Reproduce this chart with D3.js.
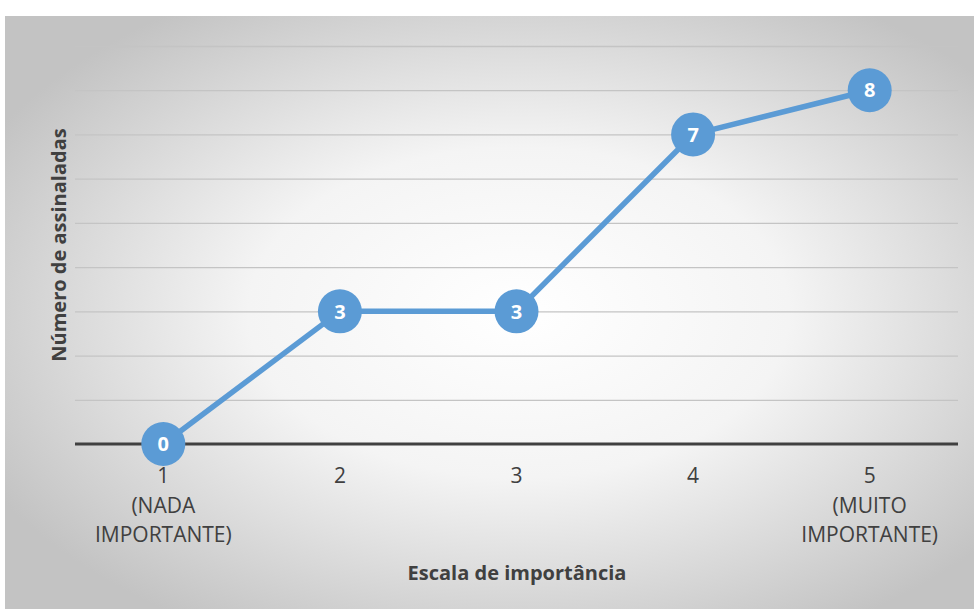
<!DOCTYPE html>
<html>
<head>
<meta charset="utf-8">
<script src="https://cdn.jsdelivr.net/npm/d3@7"></script>
<style>
  html, body { margin: 0; padding: 0; background: #ffffff; }
  svg { display: block; }
  text { font-family: "Open Sans", Lato, sans-serif; }
</style>
</head>
<body>
<svg id="chart" width="974" height="609"></svg>
<script>
// Respostas por nível da escala de importância
const categories = ["1", "2", "3", "4", "5"];
const categoryNotes = [["(NADA", "IMPORTANTE)"], [], [], [], ["(MUITO", "IMPORTANTE)"]];
const values = [0, 3, 3, 7, 8];
const yTicks = [0, 1, 2, 3, 4, 5, 6, 7, 8, 9];

const svg = d3.select("#chart");
const W = 974, H = 609;

// fundo com gradiente radial
const defs = svg.append("defs");
const grad = defs.append("radialGradient")
  .attr("id", "bg")
  .attr("cx", "53%").attr("cy", "50%").attr("r", "62%");
grad.append("stop").attr("offset", "0%").attr("stop-color", "#ffffff");
grad.append("stop").attr("offset", "45%").attr("stop-color", "#f4f4f4");
grad.append("stop").attr("offset", "100%").attr("stop-color", "#c3c3c3");

svg.append("rect")
  .attr("x", 5).attr("y", 16)
  .attr("width", W - 5).attr("height", H - 16)
  .attr("fill", "url(#bg)");

const plot = { left: 75, right: 958, top: 46, bottom: 444 };

const x = d3.scalePoint()
  .domain(categories)
  .range([plot.left, plot.right])
  .padding(0.5);

const y = d3.scaleLinear()
  .domain([0, 9])
  .range([plot.bottom, plot.top]);

// linhas de grade
const grid = d3.axisLeft(y)
  .tickValues(yTicks.filter(v => v > 0))
  .tickSize(-(plot.right - plot.left))
  .tickFormat("");
svg.append("g")
  .attr("transform", `translate(${plot.left},0)`)
  .call(grid)
  .call(g => g.select(".domain").remove())
  .call(g => g.selectAll(".tick line").attr("stroke", "#c4c4c4").attr("stroke-width", 1.3));

// eixo horizontal (zero)
const xAxis = d3.axisBottom(x).tickSize(0).tickFormat("");
svg.append("g")
  .attr("transform", `translate(0,${y(0)})`)
  .call(xAxis)
  .call(g => g.select(".domain")
    .attr("d", `M${plot.left},0H${plot.right}`)
    .attr("stroke", "#404040").attr("stroke-width", 3));

// rótulos das categorias
const labels = svg.append("g");
categories.forEach((c, i) => {
  const lines = [c].concat(categoryNotes[i]);
  lines.forEach((t, j) => {
    labels.append("text")
      .attr("x", x(c))
      .attr("y", 483 + j * 29.5)
      .attr("text-anchor", "middle")
      .attr("font-size", 21)
      .attr("fill", "#404040")
      .text(t);
  });
});

// série
const line = d3.line()
  .x((d, i) => x(categories[i]))
  .y(d => y(d));

svg.append("path")
  .datum(values)
  .attr("d", line)
  .attr("fill", "none")
  .attr("stroke", "#5b9bd5")
  .attr("stroke-width", 5.5)
  .attr("stroke-linejoin", "round");

const pts = svg.append("g").selectAll("g")
  .data(values)
  .join("g")
  .attr("transform", (d, i) => `translate(${x(categories[i])},${y(d)})`);

pts.append("circle")
  .attr("r", 22)
  .attr("fill", "#5b9bd5");

pts.append("text")
  .attr("text-anchor", "middle")
  .attr("dy", "0.36em")
  .attr("font-size", 20)
  .attr("font-weight", "bold")
  .attr("fill", "#ffffff")
  .text(d => d);

// títulos dos eixos
svg.append("text")
  .attr("x", 517).attr("y", 580)
  .attr("text-anchor", "middle")
  .attr("font-size", 20)
  .attr("font-weight", "bold")
  .attr("fill", "#404040")
  .text("Escala de importância");

svg.append("text")
  .attr("transform", "translate(66,245) rotate(-90)")
  .attr("text-anchor", "middle")
  .attr("font-size", 20)
  .attr("font-weight", "bold")
  .attr("fill", "#404040")
  .text("Número de assinaladas");
</script>
</body>
</html>
